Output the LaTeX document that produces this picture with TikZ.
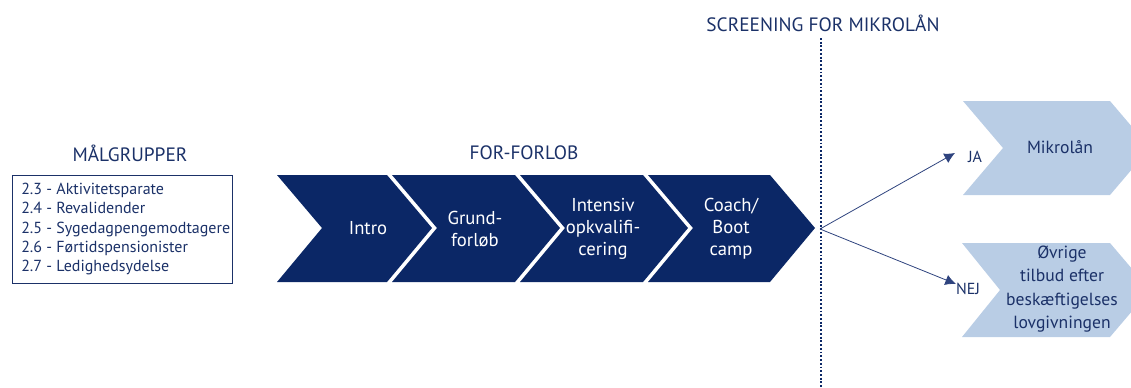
\documentclass[tikz,border=0pt]{standalone}
\usepackage{fontspec}
\setmainfont{PT Sans}
\usetikzlibrary{arrows.meta}
\definecolor{navy}{HTML}{0B2766}
\definecolor{txtblue}{HTML}{1B3168}
\definecolor{lightblue}{HTML}{B9CDE5}
\definecolor{arrblue}{HTML}{2E437E}
\tikzset{
  head/.style={text=txtblue, font=\fontsize{14.5}{16}\selectfont, inner sep=0pt},
  chevtext/.style={text=white, align=center, font=\fontsize{14}{16.5}\selectfont, inner sep=0pt},
  lighttext/.style={text=txtblue, align=center, font=\fontsize{13.2}{17.6}\selectfont, inner sep=0pt},
  decision/.style={text=txtblue, font=\fontsize{12}{14}\selectfont, inner sep=0pt},
  flow/.style={arrblue, line width=0.6pt, -{Latex[length=8pt,width=8pt]}},
}
\begin{document}
\begin{tikzpicture}[x=0.75pt,y=-0.75pt]
\useasboundingbox (0,0) rectangle (1131,387);
% dark chevrons
\foreach \a/\b in {277/387, 392/515, 520/643, 648/770}{
  \fill[navy] (\a,175) -- (\b,175) -- (\b+45,228) -- (\b,282) -- (\a,282) -- (\a+45,228) -- cycle;
}
% light chevrons
\fill[lightblue] (963,101) -- (1110,101) -- (1150,148) -- (1110,195) -- (963,195) -- (1003,148) -- cycle;
\fill[lightblue] (962,243) -- (1110,243) -- (1150,290) -- (1110,337) -- (962,337) -- (1000,290) -- cycle;
% headers
\node[head] (mal) at (130,153) {MÅLGRUPPER};
\node[head] (for) at (524,153) {FOR-FORLOB};
\node[head] (scr) at (823,23) {SCREENING FOR MIKROLÅN};
% target group box
\node[draw=txtblue, line width=0.6pt, minimum width=220*0.75pt, minimum height=108*0.75pt, inner sep=0pt] (box) at (122,229) {};
\node[anchor=west, text=txtblue, align=left, font=\fontsize{12}{14.6}\selectfont, inner sep=0pt] (list) at (21,229) {2.3 - Aktivitetsparate\\2.4 - Revalidender\\2.5 - Sygedagpengemodtagere\\2.6 - Førtidspensionister\\2.7 - Ledighedsydelse};
% chevron texts
\node[chevtext] (intro) at (368,228) {Intro};
\node[chevtext] (grund) at (475,229) {Grund-\\forløb};
\node[chevtext] (intens) at (603,229) {Intensiv\\opkvalifi-\\cering};
\node[chevtext] (coach) at (731,229) {Coach/\\Boot\\camp};
% dotted line
\coordinate (dtop) at (821,38);
\coordinate (dbot) at (821,387);
\draw[navy, line width=1.6pt, dash pattern=on 1.4pt off 1.4pt] (dtop) -- (dbot);
% decision
\coordinate (split) at (820,229);
\coordinate (jaend) at (955,153);
\coordinate (nejend) at (956,284);
\draw[flow] (split) -- (jaend);
\draw[flow] (split) -- (nejend);
\node[decision] (ja) at (975,157) {JA};
\node[decision] (nej) at (968,289) {NEJ};
\node[lighttext] (mikro) at (1060,147) {Mikrolån};
\node[lighttext] (ovrige) at (1062,289) {Øvrige\\tilbud efter\\beskæftigelses\\lovgivningen};
\end{tikzpicture}
\end{document}
